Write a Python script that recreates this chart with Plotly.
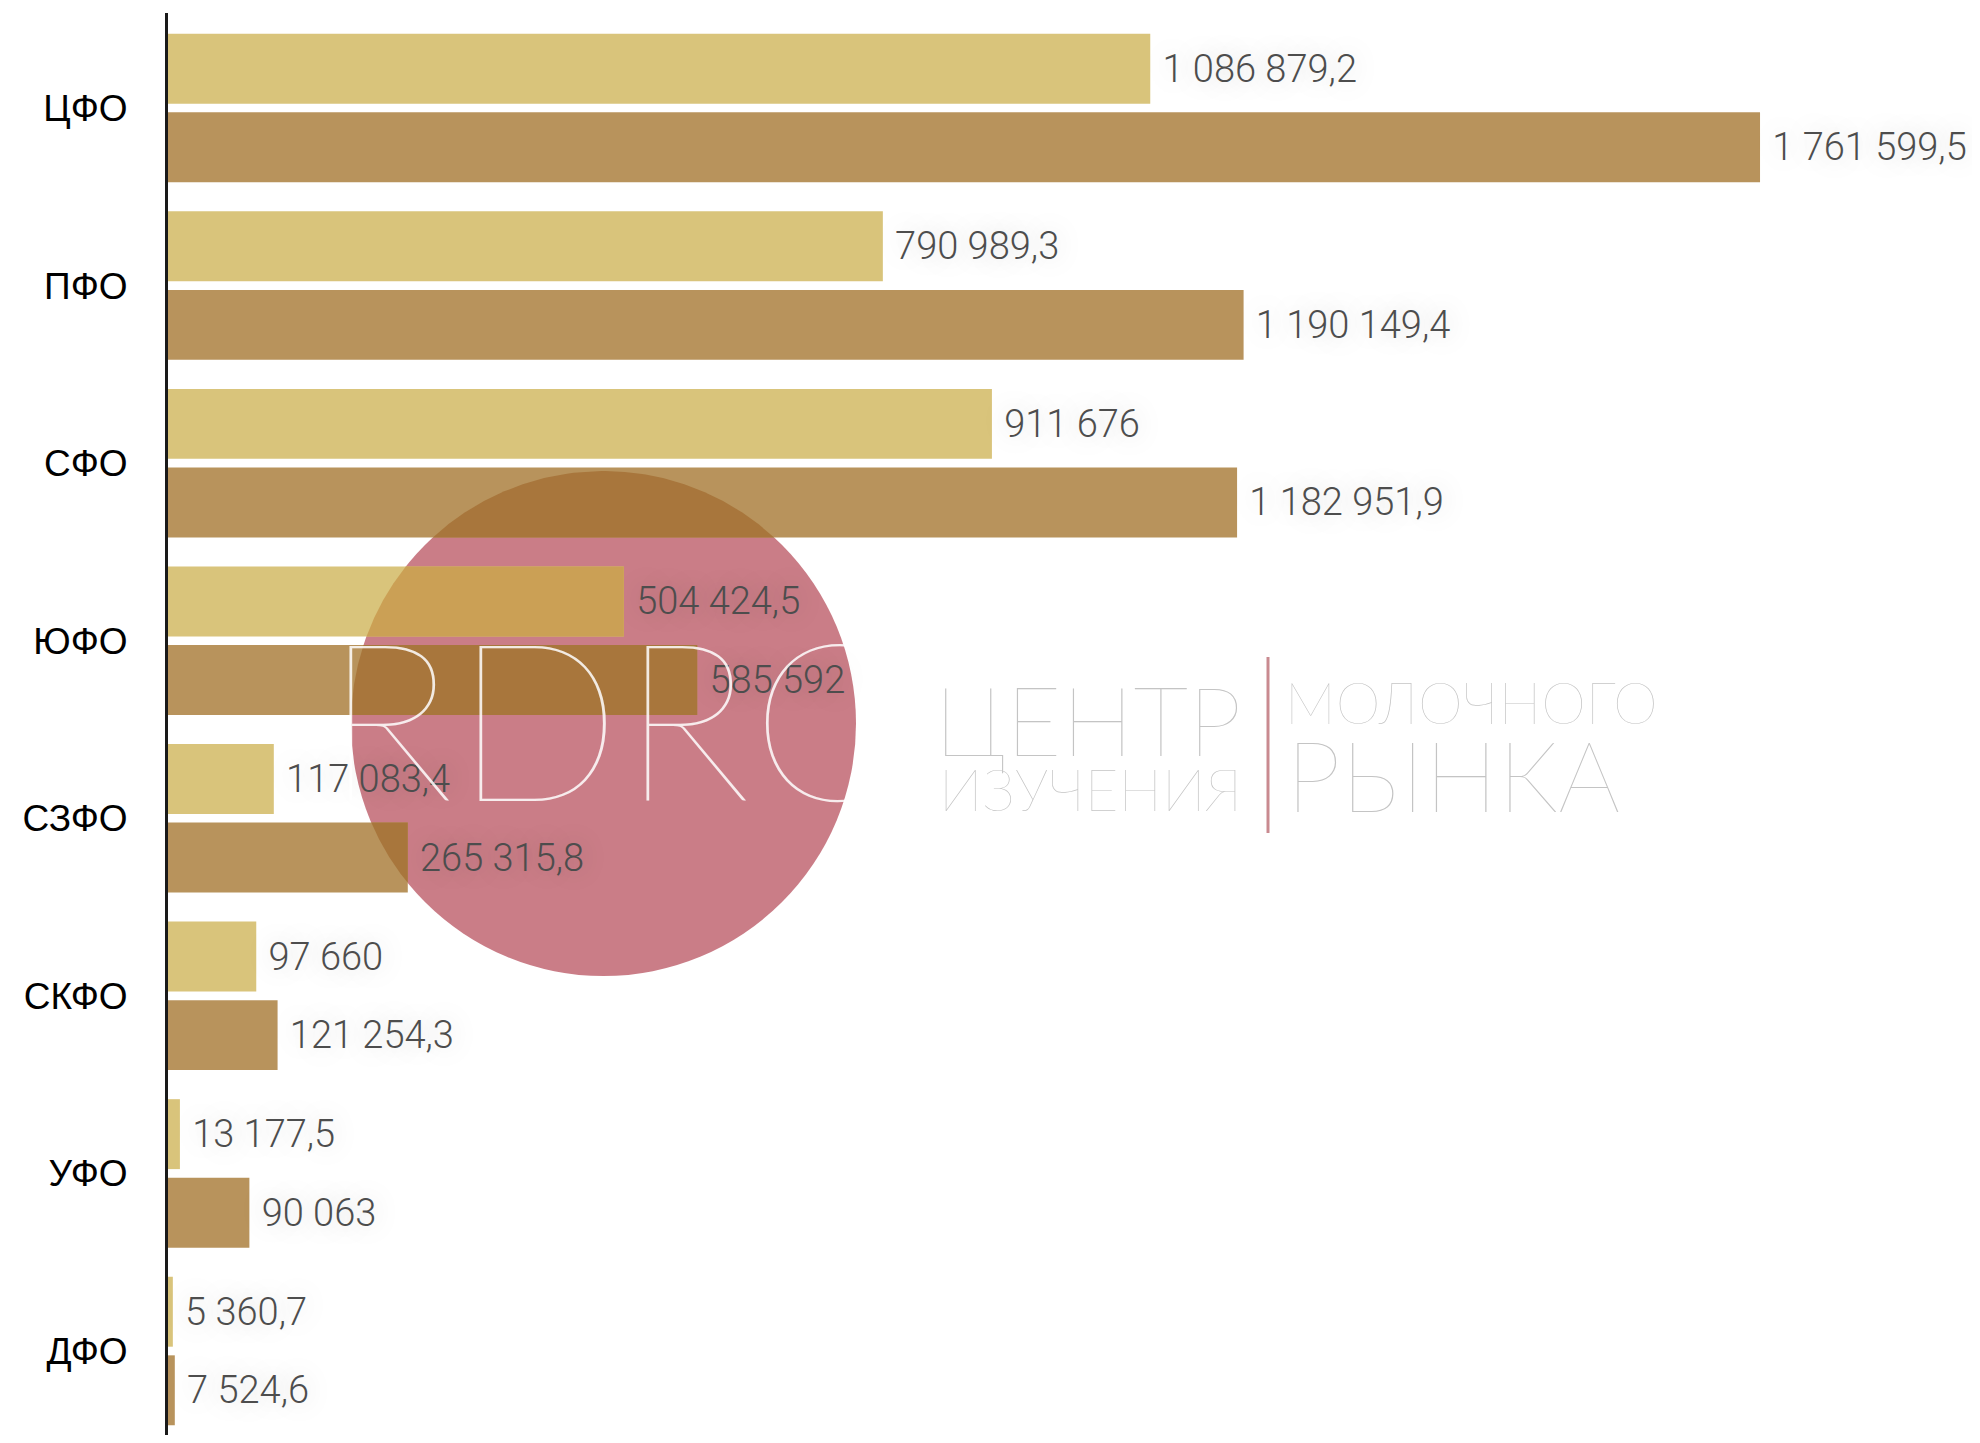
import numpy as np
import plotly.graph_objects as go

# ---- data ----
categories = ["ЦФО", "ПФО", "СФО", "ЮФО", "СЗФО", "СКФО", "УФО", "ДФО"]
series_light = [1086879.2, 790989.3, 911676, 504424.5, 117083.4, 97660, 13177.5, 5360.7]
series_dark = [1761599.5, 1190149.4, 1182951.9, 585592, 265315.8, 121254.3, 90063, 7524.6]

color_light = "#D9C47B"
color_dark = "#B8935C"
# bar colours where the watermark circle lies over them
tint_light = "#CBA055"
tint_dark = "#A8763C"


def fmt(v):
    if float(v).is_integer():
        s = f"{int(v):,}".replace(",", " ")
    else:
        s = f"{v:,.1f}".replace(",", " ").replace(".", ",")
    return "\u00a0" + s


# page body adds an 8px margin; size the figure so it fits the window exactly
OFF = 8
W, H = 1972, 1427
ML, MT = 160, 5
PW, PH = W - ML, H - MT
X_RANGE = [0, 2.005e6]
Y_RANGE = [7.473, -0.535]
BARGAP, BARGROUPGAP = 0.115, 0.11


def px(x):  # screen x -> paper
    return (x - OFF - ML) / PW


def py(y):  # screen y -> paper
    return 1 - (y - OFF - MT) / PH


def sx_data(sx):
    return X_RANGE[0] + px(sx) * (X_RANGE[1] - X_RANGE[0])


def sy_data(sy):
    return Y_RANGE[1] + (sy - OFF - MT) / PH * (Y_RANGE[0] - Y_RANGE[1])


label_font = dict(family="Roboto, Liberation Sans, Arial, sans-serif", size=38,
                  color="#4d4d4d", weight=300,
                  shadow="0px 0px 28px rgba(0,0,0,0.22)")

fig = go.Figure()
fig.add_trace(go.Bar(
    y=categories, x=series_light, orientation="h", name="light",
    marker=dict(color=color_light, line=dict(width=0)),
    text=[fmt(v) for v in series_light], textposition="outside",
    textfont=label_font, cliponaxis=False,
))
fig.add_trace(go.Bar(
    y=categories, x=series_dark, orientation="h", name="dark",
    marker=dict(color=color_dark, line=dict(width=0)),
    text=[fmt(v) for v in series_dark], textposition="outside",
    textfont=label_font, cliponaxis=False,
))

# ---- watermark circle (screen px) ----
C_SX, C_SY, C_R = 603.5, 723.5, 252.5
fig.add_shape(type="circle", xref="paper", yref="paper",
              x0=px(C_SX - C_R), x1=px(C_SX + C_R), y0=py(C_SY + C_R), y1=py(C_SY - C_R),
              fillcolor="#CA7D87", line=dict(width=0), layer="below")

# tint of the bar parts lying under the circle (circle is translucent in the original)
cx = sx_data(C_SX)
cy = sy_data(C_SY)
rx = sx_data(C_SX + C_R) - cx
ry = sy_data(C_SY + C_R) - cy
slot = (1 - BARGAP) / 2
thick = slot * (1 - BARGROUPGAP)
for j, (vals, tint) in enumerate([(series_light, tint_light), (series_dark, tint_dark)]):
    off = -slot / 2 if j == 0 else slot / 2
    for i, v in enumerate(vals):
        yc = i + off
        ys = np.linspace(yc - thick / 2, yc + thick / 2, 80)
        left, right = [], []
        for yy in ys:
            d = (yy - cy) / ry
            if abs(d) >= 1:
                continue
            half = rx * np.sqrt(1 - d * d)
            xl, xr = max(cx - half, 0), min(cx + half, v)
            if xl < xr:
                left.append((xl, yy))
                right.append((xr, yy))
        if len(left) < 2:
            continue
        poly = left + right[::-1]
        fig.add_trace(go.Scatter(
            x=[p[0] for p in poly] + [poly[0][0]], y=[p[1] for p in poly] + [poly[0][1]],
            yaxis="y2", mode="lines", fill="toself", fillcolor=tint,
            line=dict(width=0, color=tint), hoverinfo="skip", showlegend=False,
        ))

fig.add_shape(type="line", xref="paper", yref="paper",
              x0=px(1268), x1=px(1268), y0=py(833), y1=py(657),
              line=dict(color="#C98A90", width=3))

wm_color = "#C4C4C4"
fig.add_annotation(text="RDRC", xref="paper", yref="paper", x=px(612), y=py(716),
                   xanchor="center", yanchor="middle", showarrow=False,
                   font=dict(family="Lato", size=220, color="rgba(255,255,255,0.85)", weight=100))
fig.add_annotation(text="ЦЕНТР", xref="paper", yref="paper", x=px(1244), y=py(718),
                   xanchor="right", yanchor="middle", showarrow=False,
                   font=dict(family="Lato", size=96, color=wm_color, weight=100))
fig.add_annotation(text="ИЗУЧЕНИЯ", xref="paper", yref="paper", x=px(1244), y=py(789),
                   xanchor="right", yanchor="middle", showarrow=False,
                   font=dict(family="Lato", size=58, color=wm_color, weight=100))
fig.add_annotation(text="МОЛОЧНОГО", xref="paper", yref="paper", x=px(1283), y=py(702),
                   xanchor="left", yanchor="middle", showarrow=False,
                   font=dict(family="Lato", size=57, color=wm_color, weight=100))
fig.add_annotation(text="РЫНКА", xref="paper", yref="paper", x=px(1284), y=py(774),
                   xanchor="left", yanchor="middle", showarrow=False,
                   font=dict(family="Lato", size=98, color=wm_color, weight=100))

fig.update_layout(
    width=W, height=H,
    margin=dict(l=ML, r=0, t=MT, b=0, pad=0),
    paper_bgcolor="white", plot_bgcolor="white",
    barmode="group", bargap=BARGAP, bargroupgap=BARGROUPGAP,
    showlegend=False,
    xaxis=dict(visible=False, range=X_RANGE, showgrid=False, zeroline=False),
    yaxis=dict(
        type="category", range=Y_RANGE, automargin=False,
        showline=True, linecolor="#1a1a1a", linewidth=3,
        showgrid=False, zeroline=False, ticks="",
        ticklabelstandoff=30,
        tickfont=dict(family="Liberation Sans, Arial, sans-serif", size=37, color="#000000"),
    ),
    yaxis2=dict(overlaying="y", type="linear", range=Y_RANGE, visible=False,
                showgrid=False, zeroline=False),
)

fig.write_html("out.html")
